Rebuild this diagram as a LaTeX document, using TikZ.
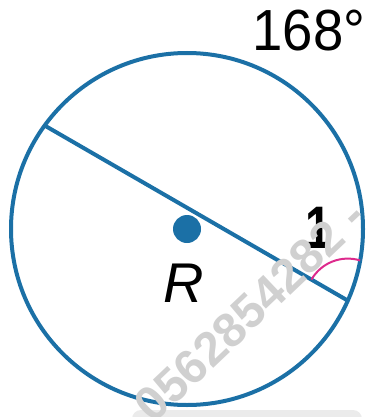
\documentclass[tikz,border=0pt]{standalone}
\usepackage{fontspec}
\setmainfont{Liberation Sans}
\definecolor{cblue}{HTML}{1B70A6}
\definecolor{cmag}{HTML}{DD2A8C}
\definecolor{wmgray}{HTML}{D0D0D0}
\tikzset{
  geo/.style={draw=cblue, line width=4pt},
  anglemark/.style={draw=cmag, line width=2pt},
  lbl/.style={inner sep=0pt, font=\fontsize{58}{58}\selectfont},
}
\begin{document}
\begin{tikzpicture}[x=1pt,y=-1pt]
\useasboundingbox (0,0) rectangle (367,417);
\clip (0,0) rectangle (367,417);
\fill[black!8, rounded corners=9pt] (132,410) rectangle (362,440);
\coordinate (C) at (187,229);
\coordinate (Q) at (44.6,125.5);
\coordinate (P) at (347.8,300.6);
\draw[geo] (C) circle[radius=176];
\draw[geo] (Q) -- (P);
\fill[cblue] (C) circle[radius=14];
\draw[anglemark] (P) ++(-150:42) arc[start angle=-150, end angle=-73, radius=42];
\node[lbl, xscale=0.94] (deg) at (309,31) {168°};
\node[lbl, font=\itshape\fontsize{56}{56}\selectfont] (R) at (184,283) {R};
\node[lbl, xscale=0.78, font=\bfseries\fontsize{60}{60}\selectfont] (one) at (319,228) {1};
\node[rotate=43.5, anchor=mid west, inner sep=0pt, text=wmgray, font=\bfseries\fontsize{48}{48}\selectfont] (wm) at (152,423) {0562854282 -};
\end{tikzpicture}
\end{document}
